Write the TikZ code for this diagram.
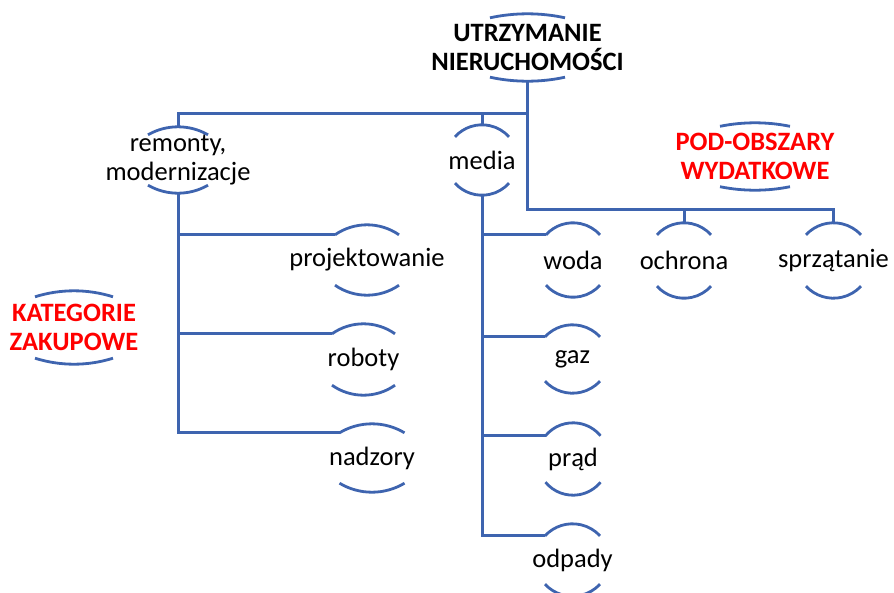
\documentclass[tikz,border=0pt]{standalone}
\usepackage{fontspec}
\setmainfont{Carlito}
\usepackage{tikz}
\definecolor{lnblue}{RGB}{62,100,175}
\definecolor{txred}{RGB}{255,0,0}

\begin{document}
\begin{tikzpicture}[x=1pt,y=1pt,
	box/.style={inner sep=0pt, align=center, font=\fontsize{26.5}{29.5}\selectfont},
	head/.style={box, font=\fontsize{26.5}{29.5}\selectfont\bfseries},
	conn/.style={draw=lnblue, line width=3pt},
	arcline/.style={draw=lnblue, line width=2.8pt}]
	\useasboundingbox (0,0) rectangle (894,-592);
	\clip (0,0) rectangle (894,-592);

	\coordinate (topbus) at (0,-113);
	\coordinate (rbus) at (0,-209);

	\node[head, minimum height=67pt] (root) at (527.5,-47.5) {UTRZYMANIE\\NIERUCHOMOŚCI};
	\node[head, text=txred, minimum height=67pt] (pod) at (755,-156.5) {POD-OBSZARY\\WYDATKOWE};
	\node[head, text=txred, minimum height=73pt] (kat) at (74,-327.5) {KATEGORIE\\ZAKUPOWE};

	\node[box, minimum height=66pt] (remonty) at (178,-160) {remonty,\\modernizacje};
	\node[box, minimum height=70pt] (media) at (482,-160) {media};

	\node[box, minimum height=70pt] (proj) at (367,-260) {projektowanie};
	\node[box, minimum height=71pt] (roboty) at (363.5,-359.5) {roboty};
	\node[box, minimum height=68pt] (nadzory) at (372,-458) {nadzory};

	\node[box, minimum height=74pt] (woda) at (573,-260) {woda};
	\node[box, minimum height=68pt] (gaz) at (572.5,-359) {gaz};
	\node[box, minimum height=72pt] (prad) at (573,-459) {prąd};
	\node[box, minimum height=72pt] (odpady) at (572.5,-560) {odpady};

	\node[box, minimum height=75pt] (ochrona) at (684,-260.5) {ochrona};
	\node[box, minimum height=75pt] (sprzat) at (833.5,-260.5) {sprzątanie};

	\foreach \n/\w/\s in {root/75/4, pod/70/3.5, kat/78/6, remonty/60/8, media/54/12,
		proj/64/10, roboty/63/10, nadzory/65/9, woda/54/12, gaz/55/12, prad/55/13,
		odpady/55/12, ochrona/54/12, sprzat/55/12}{
		\pgfmathsetmacro\r{(\w*\w/4+\s*\s)/(2*\s)}
		\pgfmathsetmacro\a{asin(\w/(2*\r))}
		\coordinate (\n-in) at ([shift={(-\w/2,-\s)}]\n.north);
		\draw[arcline] (\n-in) arc[start angle=90+\a, end angle=90-\a, radius=\r];
		\draw[arcline] ([shift={(-\w/2,\s)}]\n.south) arc[start angle=270-\a, end angle=270+\a, radius=\r];
	}

	\draw[conn] (root.south) -- (root.south |- topbus) -| (remonty.north);
	\draw[conn] (media.north) -- (media.north |- topbus);
	\draw[conn] (root.south |- topbus) -- (root.south |- rbus) -| (sprzat.north);
	\draw[conn] (ochrona.north) -- (ochrona.north |- rbus);

	\draw[conn] (remonty.south) |- (nadzory-in);
	\draw[conn] (remonty.south |- proj-in) -- (proj-in);
	\draw[conn] (remonty.south |- roboty-in) -- (roboty-in);

	\draw[conn] (media.south) |- (odpady-in);
	\draw[conn] (media.south |- woda-in) -- (woda-in);
	\draw[conn] (media.south |- gaz-in) -- (gaz-in);
	\draw[conn] (media.south |- prad-in) -- (prad-in);
\end{tikzpicture}
\end{document}
